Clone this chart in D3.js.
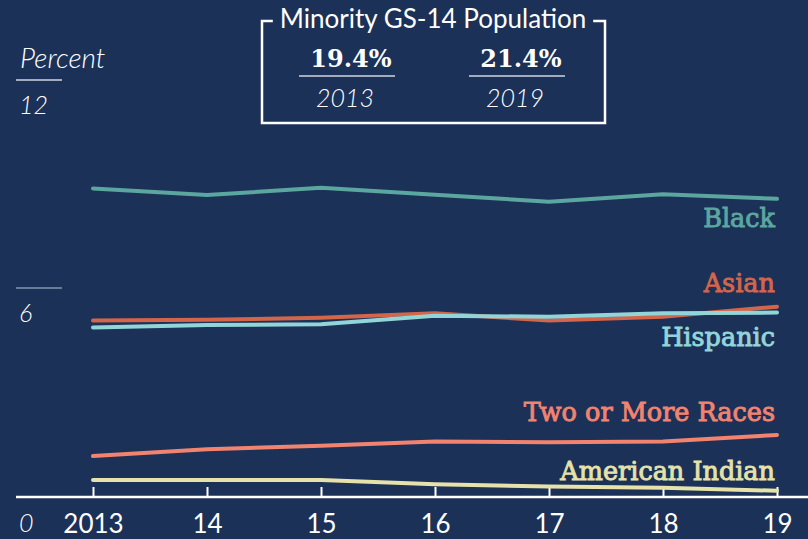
<!DOCTYPE html>
<html>
<head>
<meta charset="utf-8">
<script src="https://cdn.jsdelivr.net/npm/d3@7"></script>
<style>
  body { margin: 0; background: #1b3158; }
  svg { display: block; }
</style>
</head>
<body>
<div id="chart"></div>
<script>
// Minority GS-14 population by group, percent
var years = [2013, 2014, 2015, 2016, 2017, 2018, 2019];
var black = [8.90, 8.71, 8.92, 8.72, 8.52, 8.73, 8.60];
var asian = [5.09, 5.11, 5.17, 5.30, 5.09, 5.20, 5.49];
var hispanic = [4.89, 4.96, 4.98, 5.23, 5.20, 5.30, 5.32];
var twoOrMore = [1.18, 1.38, 1.48, 1.60, 1.58, 1.60, 1.79];
var amIndian = [0.49, 0.49, 0.49, 0.37, 0.30, 0.27, 0.18];
var seriesNames = ["Black", "Asian", "Hispanic", "Two or More Races", "American Indian"];
var yTicks = [0, 6, 12];
var summaryYears = ["2013", "2019"];
var summaryValues = ["19.4%", "21.4%"];

var width = 808;
var height = 539;

var colors = {
  "Black": "#5ba79f",
  "Asian": "#d3654b",
  "Hispanic": "#92d5d8",
  "Two or More Races": "#f2836f",
  "American Indian": "#e6e2a9"
};
// label baselines (px) - placed by hand like the original
var labelY = {
  "Black": 227,
  "Asian": 292,
  "Hispanic": 346,
  "Two or More Races": 421,
  "American Indian": 480
};

var svg = d3.select("#chart")
  .append("svg")
  .attr("width", width)
  .attr("height", height);

svg.append("rect")
  .attr("width", width)
  .attr("height", height)
  .attr("fill", "#1b3158");

var xScale = d3.scaleLinear().domain([2013, 2019]).range([93, 777]);
var yScale = d3.scaleLinear().domain([0, 12]).range([497, 81]);

////////// Y axis labels //////////
var sansFont = "Lato, 'Open Sans', sans-serif";
var serifFont = "'DejaVu Serif', serif";

svg.append("text")
  .attr("x", 20)
  .attr("y", 68)
  .attr("font-family", sansFont)
  .attr("font-style", "italic")
  .attr("font-weight", 300)
  .attr("font-size", 28)
  .attr("fill", "#ffffff")
  .text("Percent");

yTicks.forEach(function(t) {
  if (t > 0) {
    svg.append("line")
      .attr("x1", 16)
      .attr("x2", 62)
      .attr("y1", yScale(t) - 1)
      .attr("y2", yScale(t) - 1)
      .attr("stroke", t === 12 ? "#d0d6e0" : "#8796ae")
      .attr("stroke-width", 1.5);
  }
  svg.append("text")
    .attr("x", 19)
    .attr("y", t === 0 ? 532 : yScale(t) + 33)
    .attr("font-family", sansFont)
    .attr("font-style", "italic")
    .attr("font-weight", 300)
    .attr("font-size", 25)
    .attr("fill", "#ffffff")
    .text(t);
});

////////// X axis //////////
var xAxis = d3.axisBottom(xScale)
  .tickValues(years)
  .tickSize(-10)
  .tickFormat(function(d) {
    return d === 2013 ? "2013" : String(d).slice(2);
  });

var xG = svg.append("g")
  .attr("transform", "translate(0,497)")
  .call(xAxis);
xG.select(".domain").remove();
xG.selectAll(".tick line")
  .attr("stroke", "#ffffff")
  .attr("stroke-width", 2);
xG.selectAll(".tick text")
  .attr("y", 36)
  .attr("dy", null)
  .attr("fill", "#ffffff")
  .attr("font-family", sansFont)
  .attr("font-size", 26);

svg.append("line")
  .attr("x1", 16)
  .attr("x2", width)
  .attr("y1", 497)
  .attr("y2", 497)
  .attr("stroke", "#ffffff")
  .attr("stroke-width", 2.5);

////////// Lines //////////
var seriesData = {
  "Black": black,
  "Asian": asian,
  "Hispanic": hispanic,
  "Two or More Races": twoOrMore,
  "American Indian": amIndian
};

var line = d3.line()
  .x(function(d) { return xScale(d.year); })
  .y(function(d) { return yScale(d.value); });

seriesNames.forEach(function(name) {
  var pts = years.map(function(y, i) {
    return { year: y, value: seriesData[name][i] };
  });
  svg.append("path")
    .datum(pts)
    .attr("d", line)
    .attr("fill", "none")
    .attr("stroke", colors[name])
    .attr("stroke-width", 4)
    .attr("stroke-linecap", "round")
    .attr("stroke-linejoin", "round");

  svg.append("text")
    .attr("x", 775)
    .attr("y", labelY[name])
    .attr("text-anchor", "end")
    .attr("font-family", serifFont)
    .attr("font-size", 25.5)
    .attr("fill", colors[name])
    .attr("stroke", colors[name])
    .attr("stroke-width", 0.9)
    .text(name);
});

////////// Summary box //////////
var box = svg.append("g");
var boxL = 262, boxR = 605, boxT = 21, boxB = 123;

var title = box.append("text")
  .attr("x", 433)
  .attr("y", 28)
  .attr("text-anchor", "middle")
  .attr("font-family", sansFont)
  .attr("font-size", 26)
  .attr("fill", "#ffffff")
  .text("Minority GS-14 Population");
var tb = title.node().getBBox();

box.append("path")
  .attr("d", "M" + (tb.x - 7) + "," + boxT + "H" + boxL + "V" + boxB +
    "H" + boxR + "V" + boxT + "H" + (tb.x + tb.width + 7))
  .attr("fill", "none")
  .attr("stroke", "#ffffff")
  .attr("stroke-width", 2.5);

var colX = [347, 517];
summaryValues.forEach(function(v, i) {
  box.append("text")
    .attr("x", colX[i] + 4)
    .attr("y", 67)
    .attr("text-anchor", "middle")
    .attr("font-family", serifFont)
    .attr("font-weight", "bold")
    .attr("font-size", 24)
    .attr("fill", "#ffffff")
    .text(v);
  box.append("line")
    .attr("x1", colX[i] - 48)
    .attr("x2", colX[i] + 48)
    .attr("y1", 76)
    .attr("y2", 76)
    .attr("stroke", "#d0d6e0")
    .attr("stroke-width", 1.5);
  box.append("text")
    .attr("x", colX[i] - 2)
    .attr("y", 107)
    .attr("text-anchor", "middle")
    .attr("font-family", sansFont)
    .attr("font-style", "italic")
    .attr("font-weight", 300)
    .attr("font-size", 25)
    .attr("fill", "#ffffff")
    .text(summaryYears[i]);
});
</script>
</body>
</html>
